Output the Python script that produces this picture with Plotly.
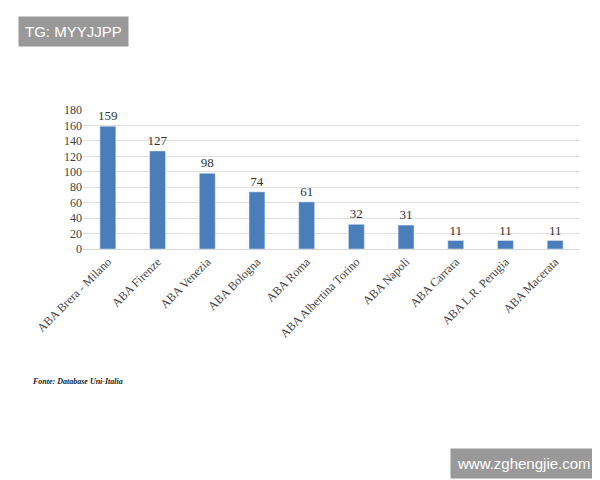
import plotly.graph_objects as go

categories = ["ABA Brera - Milano", "ABA Firenze", "ABA Venezia", "ABA Bologna", "ABA Roma",
              "ABA Albertina Torino", "ABA Napoli", "ABA Carrara", "ABA L.R. Perugia", "ABA Macerata"]
values = [159, 127, 98, 74, 61, 32, 31, 11, 11, 11]
yticks = list(range(0, 181, 20))

L, R, T, B = 75, 28, 102, 239
fig = go.Figure(go.Bar(x=categories, y=values, marker_color="#4a7ebb", width=0.32,
                       text=[str(v) for v in values], textposition="outside",
                       textfont=dict(family="Liberation Serif", size=13, color="#333"),
                       cliponaxis=False))
pw, ph = 600 - L - R, 480 - T - B
def px(x): return (x - L) / pw
def py(y): return (480 - B - y) / ph
fig.update_layout(
    width=600, height=480, paper_bgcolor="white", plot_bgcolor="white",
    margin=dict(l=L, r=R, t=T, b=B, autoexpand=False), showlegend=False,
    uniformtext=dict(minsize=13, mode="show"),
    font=dict(family="Liberation Serif", size=12, color="#444"),
    xaxis=dict(tickangle=-45, showline=True, linecolor="#d9d9d9", ticks="", automargin=False),
    yaxis=dict(range=[0, 180], tickvals=yticks, gridcolor="#e0e0e0", zeroline=False,
               automargin=False, tickfont=dict(size=12)),
    annotations=[
        dict(text="<b><i>Fonte: Database Uni-Italia</i></b>", x=px(22), y=py(373), xref="paper", yref="paper",
             showarrow=False, xanchor="left", yanchor="middle", font=dict(size=8, color="#222")),
        dict(text="TG: MYYJJPP", x=px(10), y=py(24), xref="paper", yref="paper", showarrow=False,
             xanchor="left", yanchor="middle", bgcolor="#999999",
             font=dict(family="Liberation Sans", size=15, color="white"), borderpad=6),
        dict(text="www.zghengjie.com", x=px(590), y=py(455), xref="paper", yref="paper", showarrow=False,
             xanchor="right", yanchor="middle", bgcolor="#999999",
             font=dict(family="Liberation Sans", size=15, color="white"), borderpad=6),
    ],
)
fig.write_html("out.html")
